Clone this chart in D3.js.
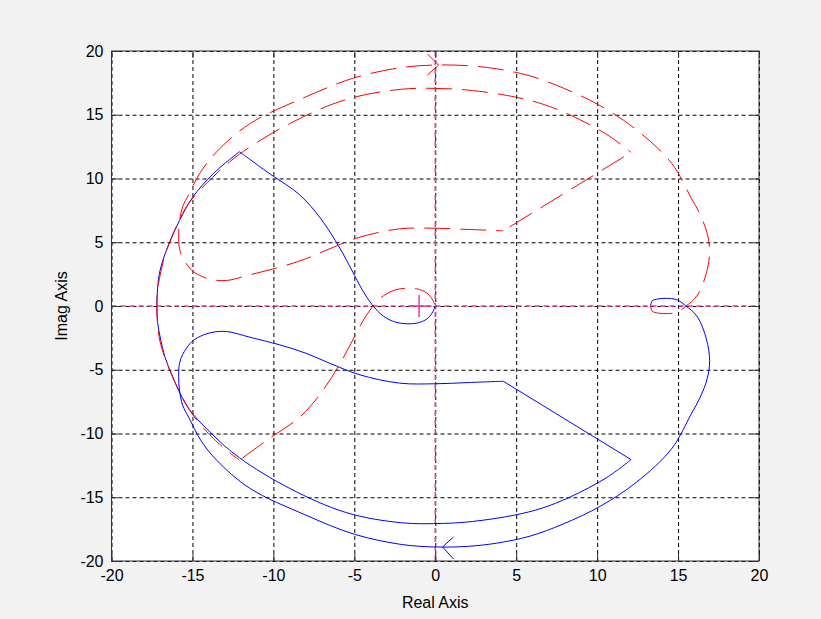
<!DOCTYPE html>
<html>
<head>
<meta charset="utf-8">
<script src="https://cdn.jsdelivr.net/npm/d3@7"></script>
<style>
  body { margin: 0; background: #f2f2f2; }
  svg { display: block; font-family: "Liberation Sans", Arial, sans-serif; }
  .tick-label text { font-size: 16px; fill: #000; }
  .axis-title { font-size: 16px; fill: #000; }
</style>
</head>
<body>
<svg id="chart"></svg>
<script>
// tick values on both axes
const xTicks = [-20, -15, -10, -5, 0, 5, 10, 15, 20];
const yTicks = [-20, -15, -10, -5, 0, 5, 10, 15, 20];

// positive frequencies (solid blue)
const blueRe = [13.3, 13.4, 13.75, 14.3, 14.9, 15.45, 16.2, 16.75, 16.95, 16.8, 16.35, 15.8, 14.6, 12.45, 10.2, 7.9, 5.85, 3.8, 2.0, 0, -2.1, -5, -8, -11.45, -13.5, -14.5, -15.2, -15.6, -15.8, -15.85, -15.8, -15.6, -15.15, -14.7, -13.9, -12.9, -11.45, -9.6, -8, -6.5, -4.65, -2.2, 0, 2.1, 4.2, 12.1, 10.6, 8.3, 6.6, 4.9, 2.3, 0.5, -2.1, -5.5, -9, -12.1, -13.75, -15.2, -15.9, -16.3, -16.7, -16.95, -17.15, -17.2, -17.15, -17.0, -16.45, -15.8, -15.0, -13.7, -12.1, -10.2, -8.4, -7.1, -5.9, -5.15, -4.5, -3.9, -3.2, -2.35, -1.15, -0.5, -0.15, 0];
const blueIm = [0.0, 0.4, 0.55, 0.6, 0.5, 0.05, -0.86, -2.6, -4.3, -5.7, -7.2, -8.5, -11.2, -13.8, -15.7, -17.1, -18.05, -18.6, -18.85, -18.9, -18.7, -17.9, -16.4, -14.3, -12.1, -10.5, -8.8, -7.8, -6.6, -5.6, -4.5, -3.8, -2.95, -2.5, -2.1, -2.0, -2.45, -3.05, -3.7, -4.5, -5.4, -6.05, -6.1, -6.0, -5.9, -12.05, -13.45, -15.0, -15.85, -16.4, -16.9, -17.05, -17.0, -16.2, -14.3, -11.9, -10.1, -8.1, -6.5, -5.3, -4.0, -2.7, -1.3, 0, 1.4, 2.8, 4.9, 6.7, 8.5, 10.4, 12.1, 10.35, 8.75, 6.9, 4.55, 2.8, 1.25, 0.1, -0.8, -1.3, -1.35, -1.0, -0.45, 0];

// negative frequencies (dashed red)
const redRe = [13.3, 13.4, 13.75, 14.3, 14.9, 15.45, 16.2, 16.75, 16.95, 16.8, 16.35, 15.8, 14.6, 12.45, 10.2, 7.9, 5.85, 3.8, 2.0, 0, -2.1, -5, -8, -11.45, -13.5, -14.5, -15.2, -15.6, -15.8, -15.85, -15.8, -15.6, -15.15, -14.7, -13.9, -12.9, -11.45, -9.6, -8, -6.5, -4.65, -2.2, 0, 2.1, 4.2, 12.1, 10.6, 8.3, 6.6, 4.9, 2.3, 0.5, -2.1, -5.5, -9, -12.1, -13.75, -15.2, -15.9, -16.3, -16.7, -16.95, -17.15, -17.2, -17.15, -17.0, -16.45, -15.8, -15.0, -13.7, -12.1, -10.2, -8.4, -7.1, -5.9, -5.15, -4.5, -3.9, -3.2, -2.35, -1.15, -0.5, -0.15, 0];
const redIm = [0.0, -0.4, -0.55, -0.6, -0.5, -0.05, 0.86, 2.6, 4.3, 5.7, 7.2, 8.5, 11.2, 13.8, 15.7, 17.1, 18.05, 18.6, 18.85, 18.9, 18.7, 17.9, 16.4, 14.3, 12.1, 10.5, 8.8, 7.8, 6.6, 5.6, 4.5, 3.8, 2.95, 2.5, 2.1, 2.0, 2.45, 3.05, 3.7, 4.5, 5.4, 6.05, 6.1, 6.0, 5.9, 12.05, 13.45, 15.0, 15.85, 16.4, 16.9, 17.05, 17.0, 16.2, 14.3, 11.9, 10.1, 8.1, 6.5, 5.3, 4.0, 2.7, 1.3, 0, -1.4, -2.8, -4.9, -6.7, -8.5, -10.4, -12.1, -10.35, -8.75, -6.9, -4.55, -2.8, -1.25, -0.1, 0.8, 1.3, 1.35, 1.0, 0.45, 0];

// indices of the sharp corners in the curves above
const cornerIdx = [44, 45, 70];

// direction arrows and the critical point
const blueArrow = [0.45, -18.9];
const redArrow = [0.2, 18.9];
const criticalPoint = [-1, 0];

class NyquistPlot {
  constructor(_config) {
    this.config = {
      parentElement: _config.parentElement,
      containerWidth: _config.containerWidth || 821,
      containerHeight: _config.containerHeight || 619,
      margin: _config.margin || { top: 51, right: 62, bottom: 58, left: 111.5 },
    };
    this.initVis();
  }

  initVis() {
    let vis = this;

    vis.width = vis.config.containerWidth - vis.config.margin.left - vis.config.margin.right;
    vis.height = vis.config.containerHeight - vis.config.margin.top - vis.config.margin.bottom;

    vis.xScale = d3.scaleLinear().domain([-20, 20]).range([0, vis.width]);
    vis.yScale = d3.scaleLinear().domain([-20, 20]).range([vis.height, 0]);

    vis.svg = d3
      .select(vis.config.parentElement)
      .attr("width", vis.config.containerWidth)
      .attr("height", vis.config.containerHeight);

    vis.svg.append("rect")
      .attr("width", vis.config.containerWidth)
      .attr("height", vis.config.containerHeight)
      .attr("fill", "#f2f2f2");

    vis.chart = vis.svg
      .append("g")
      .attr("transform", `translate(${vis.config.margin.left},${vis.config.margin.top})`);

    vis.chart.append("rect")
      .attr("width", vis.width)
      .attr("height", vis.height)
      .attr("fill", "#fff");

    // axis titles
    vis.svg.append("text")
      .attr("class", "axis-title")
      .attr("x", vis.config.margin.left + vis.width / 2)
      .attr("y", 608)
      .attr("text-anchor", "middle")
      .text("Real Axis");

    vis.svg.append("text")
      .attr("class", "axis-title")
      .attr("transform", `translate(67,${vis.config.margin.top + vis.height / 2}) rotate(-90)`)
      .attr("text-anchor", "middle")
      .text("Imag Axis");

    vis.renderVis();
  }

  // draw a curve in smooth pieces, keeping the corners sharp;
  // a running dash offset keeps the dash pattern continuous
  drawCurve(pts, color, dash) {
    let vis = this;
    const line = d3.line()
      .x((d) => vis.xScale(d[0]))
      .y((d) => vis.yScale(d[1]))
      .curve(d3.curveCatmullRom.alpha(0.5));

    const cuts = [0, ...cornerIdx, pts.length - 1];
    let offset = 0;
    for (let i = 0; i < cuts.length - 1; i++) {
      const piece = pts.slice(cuts[i], cuts[i + 1] + 1);
      const p = vis.chart.append("path")
        .attr("d", line(piece))
        .attr("fill", "none")
        .attr("stroke", color)
        .attr("stroke-width", 1);
      if (dash) {
        p.attr("stroke-dasharray", dash).attr("stroke-dashoffset", offset);
        offset -= p.node().getTotalLength();
      }
    }
  }

  renderVis() {
    let vis = this;
    const x = vis.xScale, y = vis.yScale;

    // dotted grid
    const gridX = d3.axisBottom(x).tickValues(xTicks).tickSize(-vis.height).tickFormat("");
    const gridY = d3.axisLeft(y).tickValues(yTicks).tickSize(-vis.width).tickFormat("");
    vis.chart.append("g")
      .attr("transform", `translate(0,${vis.height})`)
      .call(gridX)
      .call((g) => g.select(".domain").remove())
      .call((g) => g.selectAll("line").attr("stroke", "#000").attr("stroke-dasharray", "4,3"));
    vis.chart.append("g")
      .call(gridY)
      .call((g) => g.select(".domain").remove())
      .call((g) => g.selectAll("line").attr("stroke", "#000").attr("stroke-dasharray", "4,3"));

    // real and imaginary axis lines
    const axisColor = "#f03c96";
    vis.chart.append("line")
      .attr("x1", 0).attr("x2", vis.width)
      .attr("y1", y(0)).attr("y2", y(0))
      .attr("stroke", axisColor).attr("stroke-width", 1.5).attr("stroke-dasharray", "5,4");
    vis.chart.append("line")
      .attr("x1", x(0)).attr("x2", x(0))
      .attr("y1", 0).attr("y2", vis.height)
      .attr("stroke", axisColor).attr("stroke-width", 1.5).attr("stroke-dasharray", "5,4");

    const bluePts = blueRe.map((v, i) => [v, blueIm[i]]);
    const redPts = redRe.map((v, i) => [v, redIm[i]]);

    vis.drawCurve(bluePts, "#0000ff", null);
    vis.drawCurve(redPts, "#ff0000", "26,10");

    // critical point marker
    const cx = x(criticalPoint[0]), cy = y(criticalPoint[1]);
    vis.chart.append("path")
      .attr("d", `M${cx - 10},${cy}H${cx + 10}M${cx},${cy - 11}V${cy + 11}`)
      .attr("stroke", axisColor)
      .attr("stroke-width", 1.5);

    // arrows
    const bx = x(blueArrow[0]), by = y(blueArrow[1]);
    vis.chart.append("path")
      .attr("d", `M${bx + 11},${by - 10}L${bx},${by}L${bx + 11},${by + 12}`)
      .attr("fill", "none").attr("stroke", "#0000ff");
    const rx = x(redArrow[0]), ry = y(redArrow[1]);
    vis.chart.append("path")
      .attr("d", `M${rx - 11},${ry - 11}L${rx},${ry}L${rx - 11},${ry + 10}`)
      .attr("fill", "none").attr("stroke", "#ff0000");

    // box with inward ticks and labels
    vis.chart.append("rect")
      .attr("width", vis.width)
      .attr("height", vis.height)
      .attr("fill", "none")
      .attr("stroke", "#333");

    const tickLen = 7;
    vis.chart.append("g")
      .attr("class", "tick-label")
      .attr("transform", `translate(0,${vis.height})`)
      .call(d3.axisBottom(x).tickValues(xTicks).tickSize(-tickLen).tickPadding(9).tickFormat((d) => d))
      .call((g) => g.select(".domain").remove())
      .call((g) => g.selectAll("line").attr("stroke", "#333"));
    vis.chart.append("g")
      .attr("class", "tick-label")
      .call(d3.axisLeft(y).tickValues(yTicks).tickSize(-tickLen).tickPadding(8).tickFormat((d) => d))
      .call((g) => g.select(".domain").remove())
      .call((g) => g.selectAll("line").attr("stroke", "#333"));
    vis.chart.append("g")
      .call(d3.axisTop(x).tickValues(xTicks).tickSize(-tickLen).tickFormat(""))
      .call((g) => g.select(".domain").remove())
      .call((g) => g.selectAll("line").attr("stroke", "#333"));
    vis.chart.append("g")
      .attr("transform", `translate(${vis.width},0)`)
      .call(d3.axisRight(y).tickValues(yTicks).tickSize(-tickLen).tickFormat(""))
      .call((g) => g.select(".domain").remove())
      .call((g) => g.selectAll("line").attr("stroke", "#333"));

    vis.svg.selectAll(".tick-label text").attr("font-size", 16).attr("font-family", "Liberation Sans, Arial, sans-serif");
  }
}

new NyquistPlot({ parentElement: "#chart" });
</script>
</body>
</html>
